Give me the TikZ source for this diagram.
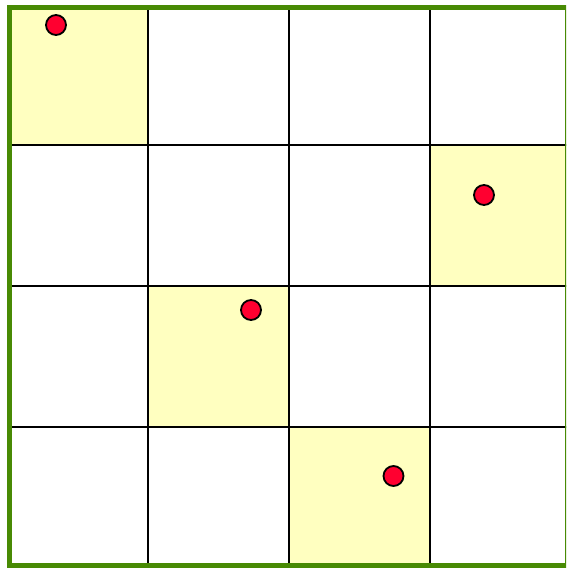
\documentclass[tikz,border=0pt]{standalone}
\definecolor{cellyellow}{RGB}{255,255,192}
\definecolor{framegreen}{RGB}{72,138,4}
\definecolor{dotred}{RGB}{255,0,48}
\tikzset{
  queen/.style={circle,draw=black,line width=1.8pt,fill=dotred,minimum size=20pt,inner sep=0pt},
  gridline/.style={black,line width=2pt},
  frame/.style={framegreen,line width=4.8pt},
  hit/.style={fill=cellyellow}
}
\begin{document}
\begin{tikzpicture}[x=1pt,y=-1pt]
\useasboundingbox (0,0) rectangle (566,568);
\clip (0,0) rectangle (566,568);
% highlighted cells
\fill[hit] (9.7,7.5) rectangle (148,145);
\fill[hit] (430,145) rectangle (568,286);
\fill[hit] (148,286) rectangle (289,427);
\fill[hit] (289,427) rectangle (430,566);
% grid
\foreach \x in {148,289,430} \draw[gridline] (\x,7.5) -- (\x,568);
\foreach \y in {145,286,427} \draw[gridline] (9.7,\y) -- (568,\y);
% frame
\draw[frame] (9.7,7.5) rectangle (567.5,565.5);
% queens
\node[queen] (q1) at (56,25) {};
\node[queen] (q2) at (484,195) {};
\node[queen] (q3) at (251,310) {};
\node[queen] (q4) at (393.5,476) {};
\end{tikzpicture}
\end{document}
